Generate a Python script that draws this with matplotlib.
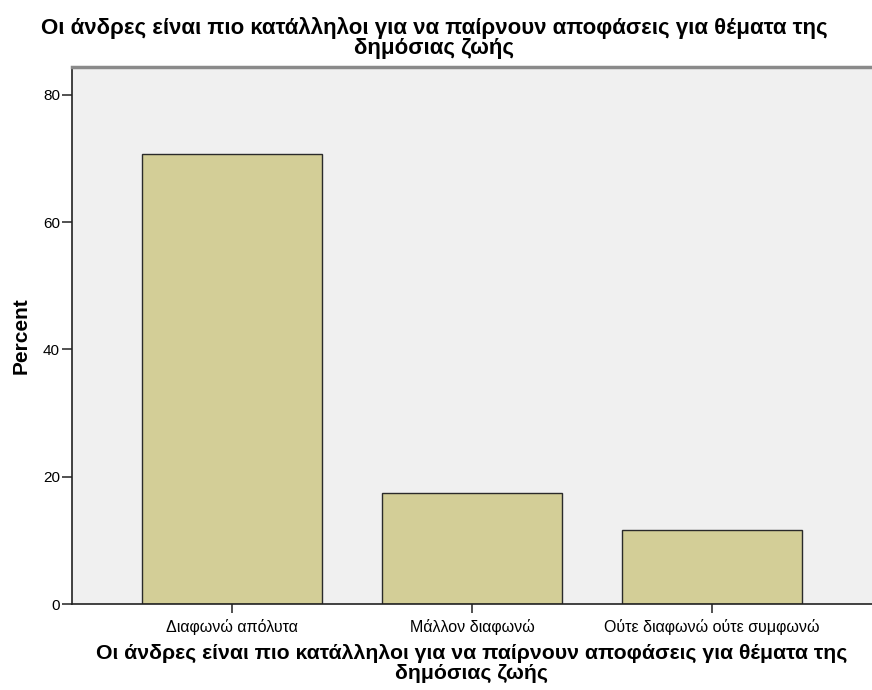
import matplotlib
matplotlib.use("Agg")
import matplotlib.pyplot as plt

categories = ["Διαφωνώ απόλυτα", "Μάλλον διαφωνώ", "Ούτε διαφωνώ ούτε συμφωνώ"]
percent = [70.7, 17.5, 11.6]
yticks = [0, 20, 40, 60, 80]
title = "Οι άνδρες είναι πιο κατάλληλοι για να παίρνουν αποφάσεις για θέματα της\nδημόσιας ζωής"

plt.rcParams['font.family'] = ['Liberation Sans', 'DejaVu Sans']

fig = plt.figure(figsize=(8.72, 6.9), dpi=100)
ax = fig.add_axes([71.7/872, 1-604/690, 1-71.7/872, (604-67)/690])
ax.set_facecolor("#F0F0F0")

x = list(range(len(categories)))
ax.bar(x, percent, width=0.75, color="#D3CE97", edgecolor="#2a2a2a", linewidth=1.0, zorder=2)

ax.set_xlim(-0.668, 2.667)
ax.set_ylim(0, 84.4)
ax.set_yticks(yticks)
ax.set_yticklabels([str(v) for v in yticks], fontsize=11)
ax.set_xticks(x)
ax.set_xticklabels(categories, fontsize=11.5)

ax.tick_params(axis='y', length=7, width=1.2, color="#333333", pad=1.5)
ax.tick_params(axis='x', length=6.5, width=1.2, color="#333333", pad=4)

for s in ['left', 'bottom']:
    ax.spines[s].set_color("#222222")
    ax.spines[s].set_linewidth(1.2)
ax.spines['top'].set_color("#8a8a8a")
ax.spines['top'].set_linewidth(2.5)
ax.spines['right'].set_visible(False)

ax.set_ylabel("Percent", fontsize=15, fontweight='bold', labelpad=9)
ax.set_xlabel(title, fontsize=15.3, fontweight='bold', labelpad=7, linespacing=1.05)

fig.text(434/872, 1-17/690, title, ha='center', va='top', fontsize=16, fontweight='bold', linespacing=0.93)

fig.savefig("out.png", dpi=100)
